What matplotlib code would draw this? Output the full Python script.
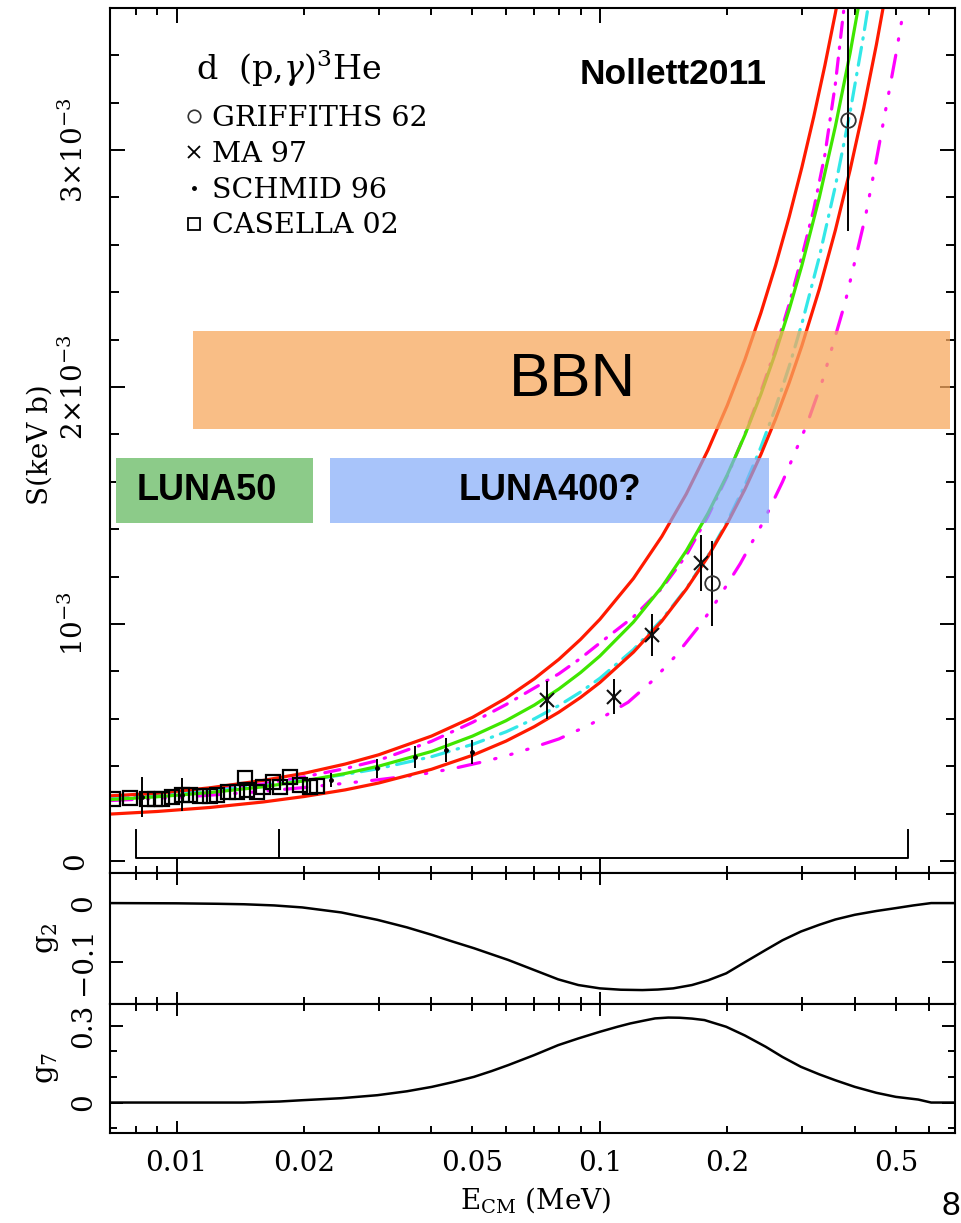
import matplotlib
matplotlib.use("Agg")
import matplotlib.pyplot as plt
from matplotlib.patches import Rectangle
from matplotlib.lines import Line2D
from matplotlib.ticker import FixedLocator, FuncFormatter

plt.rcParams['font.family'] = ['DejaVu Serif']
plt.rcParams['mathtext.fontset'] = 'dejavuserif'
plt.rcParams['lines.scale_dashes'] = False

# ---------------- data: E in MeV, S in units of 1e-3 keV b ----------------
E_red_hi = [0.00696, 0.009, 0.012, 0.016, 0.02, 0.025, 0.03, 0.04, 0.05, 0.06, 0.07, 0.08, 0.09, 0.10,
            0.12, 0.14, 0.16, 0.18, 0.20, 0.22, 0.24, 0.26, 0.28, 0.30, 0.32, 0.34, 0.36, 0.38]
S_red_hi = [0.275, 0.286, 0.309, 0.340, 0.370, 0.409, 0.448, 0.527, 0.606, 0.687, 0.769, 0.851, 0.935, 1.020,
            1.192, 1.369, 1.549, 1.734, 1.923, 2.115, 2.312, 2.513, 2.718, 2.927, 3.140, 3.357, 3.578, 3.803]

E_red_lo = [0.00696, 0.009, 0.012, 0.016, 0.02, 0.025, 0.03, 0.04, 0.05, 0.06, 0.07, 0.08, 0.09, 0.10,
            0.12, 0.14, 0.16, 0.18, 0.20, 0.22, 0.24, 0.26, 0.28, 0.30, 0.33, 0.36, 0.39, 0.42, 0.45, 0.48]
S_red_lo = [0.198, 0.209, 0.226, 0.249, 0.272, 0.300, 0.329, 0.387, 0.446, 0.506, 0.567, 0.628, 0.690, 0.753,
            0.881, 1.012, 1.147, 1.284, 1.425, 1.568, 1.715, 1.865, 2.018, 2.174, 2.414, 2.662, 2.916, 3.177,
            3.445, 3.720]

E_green = [0.00696, 0.009, 0.012, 0.016, 0.02, 0.025, 0.03, 0.04, 0.05, 0.06, 0.07, 0.08, 0.09, 0.10,
           0.12, 0.14, 0.16, 0.18, 0.20, 0.22, 0.24, 0.26, 0.28, 0.30, 0.33, 0.36, 0.39, 0.42]
S_green = [0.259, 0.271, 0.289, 0.313, 0.338, 0.369, 0.400, 0.462, 0.527, 0.592, 0.658, 0.726, 0.795, 0.865,
           1.008, 1.156, 1.309, 1.467, 1.630, 1.797, 1.969, 2.145, 2.327, 2.513, 2.801, 3.100, 3.409, 3.729]

E_cyan = [0.00696, 0.009, 0.012, 0.016, 0.02, 0.025, 0.03, 0.04, 0.05, 0.06, 0.07, 0.08, 0.09, 0.10,
          0.12, 0.14, 0.16, 0.18, 0.20, 0.22, 0.24, 0.26, 0.28, 0.30, 0.33, 0.36, 0.39, 0.42, 0.44]
S_cyan = [0.265, 0.277, 0.296, 0.318, 0.340, 0.365, 0.390, 0.440, 0.492, 0.545, 0.600, 0.656, 0.713, 0.771,
          0.892, 1.018, 1.150, 1.288, 1.433, 1.585, 1.746, 1.913, 2.087, 2.267, 2.550, 2.848, 3.160, 3.488,
          3.714]

E_mag_in = [0.00696, 0.009, 0.012, 0.016, 0.02, 0.025, 0.03, 0.04, 0.05, 0.06, 0.07, 0.08, 0.09, 0.10,
            0.12, 0.14, 0.16, 0.18, 0.20, 0.22, 0.24, 0.26, 0.28, 0.30, 0.32, 0.34, 0.36, 0.38]
S_mag_in = [0.262, 0.275, 0.296, 0.325, 0.355, 0.390, 0.425, 0.505, 0.585, 0.660, 0.730, 0.790, 0.855, 0.920,
            1.030, 1.150, 1.290, 1.455, 1.625, 1.800, 1.980, 2.160, 2.350, 2.550, 2.750, 2.980, 3.280, 3.650]

E_mag_out = [0.00696, 0.01, 0.015, 0.02, 0.025, 0.03, 0.0376, 0.045, 0.0534, 0.0604, 0.0671, 0.08, 0.0947,
             0.1166, 0.133, 0.15, 0.174, 0.19, 0.2146, 0.243, 0.27, 0.308, 0.336, 0.38, 0.424, 0.449, 0.471,
             0.50, 0.525]
S_mag_out = [0.255, 0.268, 0.290, 0.310, 0.328, 0.343, 0.365, 0.390, 0.420, 0.445, 0.470, 0.515, 0.575,
             0.670, 0.760, 0.860, 1.005, 1.105, 1.255, 1.430, 1.600, 1.840, 2.030, 2.360, 2.720, 2.950, 3.150,
             3.400, 3.620]

# experimental data
E_griffiths = [0.1835, 0.386]
S_griffiths = [1.172, 3.127]
dS_griffiths = [0.18, 0.47]

E_ma = [0.0748, 0.108, 0.133, 0.173]
S_ma = [0.679, 0.693, 0.954, 1.256]
dS_ma = [0.08, 0.074, 0.09, 0.118]

E_schmid = [0.0083, 0.0103, 0.0232, 0.0297, 0.0366, 0.0434, 0.0498]
S_schmid = [0.27, 0.28, 0.342, 0.392, 0.44, 0.468, 0.46]
dS_schmid = [0.085, 0.07, 0.03, 0.04, 0.046, 0.05, 0.05]

E_casella = [0.00708, 0.00776, 0.00849, 0.00889, 0.00922, 0.00973, 0.01027, 0.01075, 0.01135, 0.01198,
             0.01243, 0.01324, 0.01386, 0.01450, 0.01464, 0.01545, 0.01602, 0.01691, 0.01754, 0.01852,
             0.01956, 0.02065, 0.02141]
S_casella = [0.260, 0.265, 0.260, 0.262, 0.262, 0.270, 0.278, 0.278, 0.274, 0.274,
             0.278, 0.292, 0.292, 0.349, 0.300, 0.292, 0.311, 0.335, 0.313, 0.356,
             0.321, 0.313, 0.316]

legend_title = r'd  (p,$\gamma$)$^3$He'
legend_labels = ['GRIFFITHS 62', 'MA 97', 'SCHMID 96', 'CASELLA 02']

# energy-range bracket
E_bracket = [0.00801, 0.01747, 0.533]
S_bracket_lo, S_bracket_hi = 0.0139, 0.131

# sensitivity functions
E_g2 = [0.00693, 0.01, 0.0125, 0.01443, 0.017, 0.0198, 0.0245, 0.0298, 0.035, 0.0401, 0.045, 0.0504,
        0.0555, 0.0607, 0.0699, 0.0797, 0.0889, 0.1, 0.112, 0.126, 0.137, 0.149, 0.165, 0.18, 0.1988,
        0.22, 0.2465, 0.27, 0.2984, 0.33, 0.36, 0.4, 0.45, 0.5, 0.55, 0.606, 0.70]
g2 = [0.0, -0.0004, -0.0012, -0.002, -0.004, -0.0074, -0.016, -0.0286, -0.0415, -0.0543, -0.066, -0.0771,
      -0.0875, -0.0971, -0.1143, -0.1303, -0.14, -0.1457, -0.148, -0.1486, -0.1477, -0.1457, -0.14, -0.132,
      -0.12, -0.101, -0.08, -0.0635, -0.0486, -0.037, -0.028, -0.02, -0.0135, -0.0086, -0.004, 0.0, 0.0]

E_g7 = [0.00693, 0.0144, 0.0175, 0.0198, 0.0245, 0.0298, 0.035, 0.0401, 0.045, 0.0504, 0.0555, 0.0607,
        0.0699, 0.0797, 0.0889, 0.1, 0.11, 0.118, 0.127, 0.135, 0.145, 0.1542, 0.165, 0.1766, 0.1988, 0.22,
        0.2465, 0.27, 0.2984, 0.33, 0.36, 0.4, 0.45, 0.5, 0.565, 0.606, 0.70]
g7 = [0.0, 0.0, 0.004, 0.0091, 0.017, 0.0287, 0.044, 0.0613, 0.08, 0.1004, 0.123, 0.1461,
      0.1852, 0.2243, 0.2504, 0.2765, 0.296, 0.3091, 0.32, 0.3287, 0.332, 0.3313, 0.328, 0.3222, 0.296, 0.262,
      0.2178, 0.178, 0.1396, 0.11, 0.087, 0.0613, 0.038, 0.0222, 0.0117, 0.0, 0.0]

# ---------------- figure ----------------
W, H = 961, 1223
fig = plt.figure(figsize=(W / 100, H / 100), dpi=100)


def rect(x0, y0, x1, y1):
    return [x0 / W, 1 - y1 / H, (x1 - x0) / W, (y1 - y0) / H]


ax = fig.add_axes(rect(110, 8, 955, 873))
ax2 = fig.add_axes(rect(110, 873, 955, 1004), sharex=ax)
ax3 = fig.add_axes(rect(110, 1004, 955, 1133), sharex=ax)

for a in (ax, ax2, ax3):
    for s in a.spines.values():
        s.set_linewidth(1.5)

ax.set_xscale('log')
ax.set_xlim(0.00696, 0.690)
ax.set_ylim(-0.0506, 3.599)
ax2.set_ylim(-0.1724, 0.0514)
ax3.set_ylim(-0.119, 0.385)

# curves
lw = 2.3
ax.plot(E_mag_out, S_mag_out, color='#ff00ff', lw=lw, dashes=(16, 11, 1, 11, 1, 11, 1, 11),
        dash_capstyle='round', zorder=2)
ax.plot(E_mag_in, S_mag_in, color='#ff00ff', lw=lw, dashes=(11, 7, 1, 7), dash_capstyle='round', zorder=2)
ax.plot(E_cyan, S_cyan, color='#33e8e8', lw=lw, dashes=(13, 6, 1, 6), dash_capstyle='round', zorder=2)
ax.plot(E_green, S_green, color='#3fe600', lw=lw, zorder=2.2)
ax.plot(E_red_hi, S_red_hi, color='#ff1a00', lw=lw, zorder=2.3)
ax.plot(E_red_lo, S_red_lo, color='#ff1a00', lw=lw, zorder=2.3)

# data points
for E, S, dS in ((E_griffiths, S_griffiths, dS_griffiths), (E_ma, S_ma, dS_ma), (E_schmid, S_schmid, dS_schmid)):
    ax.errorbar(E, S, yerr=dS, fmt='none', ecolor='k', elinewidth=1.4, capsize=0, zorder=3)
ax.plot(E_griffiths, S_griffiths, ls='none', marker='o', ms=10.5, mfc='none', mec='#333333', mew=1.3, zorder=3.2)
ax.plot(E_ma, S_ma, ls='none', marker='x', ms=10, mec='#111111', mew=1.5, zorder=3.2)
ax.plot(E_schmid, S_schmid, ls='none', marker='.', ms=5, color='k', zorder=3.2)
ax.plot(E_casella, S_casella, ls='none', marker='s', ms=9.5, mfc='none', mec='k', mew=1.6, zorder=3.1)

# bracket
ax.plot([E_bracket[0], E_bracket[0], E_bracket[2], E_bracket[2]],
        [S_bracket_hi, S_bracket_lo, S_bracket_lo, S_bracket_hi], color='k', lw=1.4, zorder=3)
ax.plot([E_bracket[1], E_bracket[1]], [S_bracket_lo, S_bracket_hi], color='k', lw=1.4, zorder=3)

# g panels
ax2.plot(E_g2, g2, color='k', lw=1.8)
ax3.plot(E_g7, g7, color='k', lw=1.8)

# ---------------- ticks ----------------
major_x = [0.01, 0.1]
minor_x = [0.008, 0.009, 0.02, 0.03, 0.04, 0.05, 0.06, 0.07, 0.08, 0.09, 0.2, 0.3, 0.4, 0.5, 0.6]
xlabels = {0.01: '0.01', 0.1: '0.1', 0.02: '0.02', 0.05: '0.05', 0.2: '0.2', 0.5: '0.5'}
ax.xaxis.set_major_locator(FixedLocator(major_x))
ax.xaxis.set_minor_locator(FixedLocator(minor_x))
fmt = FuncFormatter(lambda v, p: xlabels.get(round(v, 4), ''))
ax.xaxis.set_major_formatter(fmt)
ax.xaxis.set_minor_formatter(fmt)

ax.set_yticks([0, 1, 2, 3])
ax.set_yticks([0.2 * i for i in range(0, 18) if i % 5 != 0], minor=True)
ax.set_yticklabels(['0', r'$10^{-3}$', r'$2{\times}10^{-3}$', r'$3{\times}10^{-3}$'],
                   rotation=90, va='center')
ax.tick_params(which='both', direction='in', top=True, right=True, width=1.4,
               labelbottom=False, labelsize=20)
ax.tick_params(axis='x', which='major', length=10.8)
ax.tick_params(axis='x', which='minor', length=4.8)
ax.tick_params(axis='y', which='major', length=10.8, pad=15)
ax.tick_params(axis='y', which='minor', length=6.5)

ax2.set_yticks([0, -0.1])
ax2.set_yticklabels(['0', '\u22120.1'], rotation=90, va='center')
ax2.tick_params(which='both', direction='in', top=True, right=True, width=1.4,
                labelbottom=False, labelsize=20)
ax2.tick_params(axis='x', which='major', length=8.4)
ax2.tick_params(axis='x', which='minor', length=5)
ax2.tick_params(axis='y', which='major', length=9.4, pad=9.4)

ax3.set_yticks([0, 0.3])
ax3.set_yticks([-0.1, 0.1, 0.2], minor=True)
ax3.set_yticklabels(['0', '0.3'], rotation=90, va='center')
ax3.tick_params(which='both', direction='in', top=True, right=True, width=1.4, labelsize=20)
ax3.tick_params(axis='x', which='major', length=8.4, pad=12)
ax3.tick_params(axis='x', which='minor', length=5, pad=12)
ax3.tick_params(axis='y', which='major', length=9.4, pad=9.4)
ax3.tick_params(axis='y', which='minor', length=5)

# ---------------- labels ----------------
fig.text(40 / W, 1 - 445 / H, 'S(keV b)', rotation=90, ha='center', va='center', fontsize=20)
fig.text(47 / W, 1 - 938 / H, r'$\mathrm{g}_2$', rotation=90, ha='center', va='center', fontsize=21)
fig.text(47 / W, 1 - 1068 / H, r'$\mathrm{g}_7$', rotation=90, ha='center', va='center', fontsize=21)
fig.text(536 / W, 1 - 1200 / H, r'E$_{\rm CM}$ (MeV)', ha='center', va='center', fontsize=20)

# ---------------- legend ----------------
fig.text(196 / W, 1 - 68 / H, legend_title, ha='left', va='center', fontsize=24)
handles = [Line2D([], [], ls='none', marker='o', ms=9, mfc='none', mec='#333333', mew=1.2),
           Line2D([], [], ls='none', marker='x', ms=8, mec='k', mew=1.3),
           Line2D([], [], ls='none', marker='.', ms=5, color='k'),
           Line2D([], [], ls='none', marker='s', ms=9, mfc='none', mec='k', mew=1.3)]
leg = ax.legend(handles, legend_labels, loc='upper left',
                bbox_to_anchor=(186 / W, 1 - 105 / H), bbox_transform=fig.transFigure,
                frameon=False, fontsize=20.5, handlelength=0.55, handletextpad=0.35,
                labelspacing=0.31, borderpad=0, borderaxespad=0)
leg.set_zorder(6)

# ---------------- annotation boxes ----------------
ax.add_patch(Rectangle((0.00719, 1.427), 0.021 - 0.00719, 1.699 - 1.427, facecolor='#8ccb89',
                       edgecolor='none', zorder=4))
ax.add_patch(Rectangle((0.02302, 1.427), 0.2507 - 0.02302, 1.699 - 1.427, facecolor='#83abf8',
                       edgecolor='none', alpha=0.7, zorder=4))
ax.add_patch(Rectangle((0.01093, 1.824), 0.671 - 0.01093, 2.236 - 1.824, facecolor='#f7a85e',
                       edgecolor='none', alpha=0.75, zorder=4))

sans = ['Liberation Sans', 'DejaVu Sans']
fig.text(207 / W, 1 - 490 / H, 'LUNA50', ha='center', va='center', fontsize=26, fontweight='bold',
         family=sans, zorder=7)
fig.text(550 / W, 1 - 490 / H, 'LUNA400?', ha='center', va='center', fontsize=26, fontweight='bold',
         family=sans, zorder=7)
fig.text(572 / W, 1 - 381 / H, 'BBN', ha='center', va='center', fontsize=44.5, family=sans, zorder=7)
fig.text(673 / W, 1 - 74 / H, 'Nollett2011', ha='center', va='center', fontsize=25.5, fontweight='bold',
         family=sans, zorder=7)
fig.text(951 / W, 1 - 1222 / H, '8', ha='center', va='bottom', fontsize=24, family=sans)

fig.savefig('out.png', dpi=100)
